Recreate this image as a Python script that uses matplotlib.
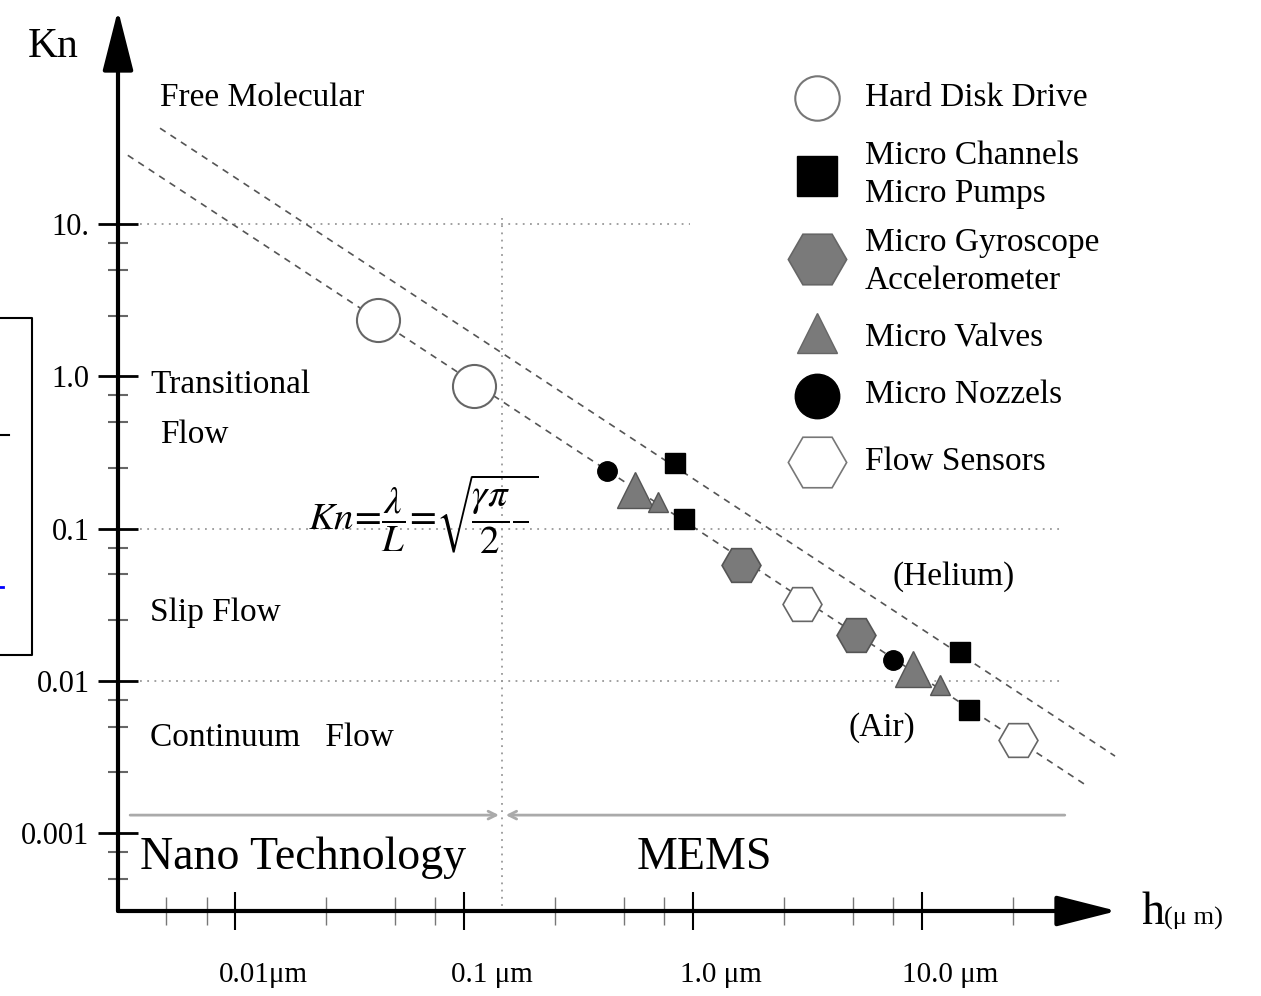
import numpy as np
import matplotlib
matplotlib.use('Agg')
import matplotlib.pyplot as plt
from matplotlib.lines import Line2D
from matplotlib.ticker import FixedLocator, NullFormatter
from matplotlib.transforms import blended_transform_factory

plt.rcParams['font.family'] = ['Liberation Serif', 'DejaVu Serif']
plt.rcParams['mathtext.fontset'] = 'stix'

W, H = 1261, 996

# devices: channel height h (um) vs Knudsen number
hdd_h = [0.042, 0.11]
hdd_kn = [2.34, 0.87]
chan_h = [0.83, 0.91, 14.6, 16.0]
chan_kn = [0.27, 0.115, 0.0155, 0.0064]
gyro_h = [1.62, 5.15]
gyro_kn = [0.058, 0.020]
valve_big_h = [0.56, 9.1]
valve_big_kn = [0.18, 0.012]
valve_small_h = [0.70, 12.0]
valve_small_kn = [0.15, 0.0094]
nozzle_h = [0.42, 7.5]
nozzle_kn = [0.24, 0.0136]
sensor_h = [3.0, 26.2]
sensor_kn = [0.032, 0.0041]

# Kn ~ 1/h lines
air_h = [0.0034, 52.5]
air_kn = [28.4, 0.00204]
he_h = [0.0047, 69.6]
he_kn = [42.8, 0.0032]

xticks = [0.01, 0.1, 1.0, 10.0]
xtick_labels = ['0.01μm', '0.1 μm', '1.0 μm', '10.0 μm']
yticks = [0.001, 0.01, 0.1, 1.0, 10.0]
ytick_labels = ['0.001', '0.01', '0.1', '1.0', '10.']
xminor = [m * 10.0**k for k in range(-3, 2) for m in (2.5, 5, 7.5)]
yminor = [m * 10.0**k for k in range(-4, 1) for m in (2.5, 5, 7.5)]

legend_names = ['Hard Disk Drive', 'Micro Channels\nMicro Pumps',
                'Micro Gyroscope\nAccelerometer', 'Micro Valves',
                'Micro Nozzels', 'Flow Sensors']


def fx(px):
    return px / W


def fy(py):
    return 1 - py / H


fig = plt.figure(figsize=(W / 100, H / 100), dpi=100)
ax = fig.add_axes([fx(118), fy(911), (1117 - 118) / W, (911 - 10) / H])
ax.set_xscale('log')
ax.set_yscale('log')
ax.set_xlim(0.00308, 71.0)
ax.set_ylim(3.07e-4, 256)
for s in ax.spines.values():
    s.set_visible(False)

# ticks
ax.set_yticks(yticks)
ax.set_yticklabels(ytick_labels, fontsize=22)
ax.yaxis.set_minor_locator(FixedLocator([v for v in yminor if 3.1e-4 < v < 10]))
ax.yaxis.set_minor_formatter(NullFormatter())
ax.tick_params(axis='y', which='major', direction='inout', length=29, width=2, pad=6)
ax.tick_params(axis='y', which='minor', direction='inout', length=15, width=1.5, color='#666666')
ax.set_xticks(xticks)
ax.set_xticklabels([''] * len(xticks))
ax.xaxis.set_minor_locator(FixedLocator([v for v in xminor if 0.0031 < v < 40]))
ax.xaxis.set_minor_formatter(NullFormatter())
ax.tick_params(axis='x', which='major', direction='inout', length=27, width=1.5)
ax.tick_params(axis='x', which='minor', direction='inout', length=20, width=1.0, color='#777777')

for v, lab in zip(xticks, xtick_labels):
    ax.annotate(lab, xy=(v, 0), xycoords=('data', 'axes fraction'),
                xytext=(20, -46), textcoords='offset points',
                ha='center', va='center', fontsize=21)

# axes with arrows
arrow_kw = dict(arrowstyle='-|>,head_length=0.75,head_width=0.19', color='black',
                lw=3, mutation_scale=50, shrinkA=0, shrinkB=0)
ax.annotate('', xy=(0, 1), xytext=(0, 0), xycoords='axes fraction',
            arrowprops=arrow_kw, annotation_clip=False)
ax.annotate('', xy=(1, 0), xytext=(0, 0), xycoords='axes fraction',
            arrowprops=arrow_kw, annotation_clip=False)

# dotted guides
bt = blended_transform_factory(ax.transAxes, ax.transData)
ax.plot([0.022, 0.573], [10, 10], transform=bt, ls=(0, (1, 3)), color='#999999', lw=1.3)
for k in (0.1, 0.01):
    ax.plot([0.022, 0.945], [k, k], transform=bt, ls=(0, (1, 3)), color='#999999', lw=1.3)
ax.plot([0.147, 0.147], [11, 3.3e-4], ls=(0, (1, 3)), color='#999999', lw=1.3)

# Nano / MEMS separator
ax.annotate('', xy=(0.142, 1.31e-3), xytext=(0.00348, 1.31e-3),
            arrowprops=dict(arrowstyle='->', color='#aaaaaa', lw=2, shrinkA=0, shrinkB=0,
                            mutation_scale=14))
ax.annotate('', xy=(0.152, 1.31e-3), xytext=(42, 1.31e-3),
            arrowprops=dict(arrowstyle='->', color='#aaaaaa', lw=2, shrinkA=0, shrinkB=0,
                            mutation_scale=14))

# Kn lines
ax.plot(air_h, air_kn, ls=(0, (4, 3.5)), color='#555555', lw=1.2)
ax.plot(he_h, he_kn, ls=(0, (4, 3.5)), color='#555555', lw=1.2)

# devices
ax.plot(hdd_h, hdd_kn, 'o', ms=31, mfc='white', mec='#666666', mew=1.5, ls='none')
ax.plot(chan_h, chan_kn, 's', ms=15, mfc='black', mec='black', ls='none')
ax.plot(gyro_h, gyro_kn, 'H', ms=28, mfc='#7a7a7a', mec='#555555', mew=1.2, ls='none')
ax.plot(sensor_h, sensor_kn, 'H', ms=28, mfc='white', mec='#666666', mew=1.2, ls='none')
ax.plot(valve_big_h, valve_big_kn, '^', ms=26, mfc='#7a7a7a', mec='#555555', mew=1, ls='none')
ax.plot(valve_small_h, valve_small_kn, '^', ms=15, mfc='#7a7a7a', mec='#555555', mew=1, ls='none')
ax.plot(nozzle_h, nozzle_kn, 'o', ms=14, mfc='black', mec='black', ls='none')

# legend drawn by hand
leg_styles = [dict(marker='o', ms=32, mfc='white', mec='#777777', mew=1.5),
              dict(marker='s', ms=29, mfc='black', mec='black'),
              dict(marker='H', ms=42, mfc='#7a7a7a', mec='#666666', mew=1.2),
              dict(marker='^', ms=29, mfc='#7a7a7a', mec='#666666', mew=1),
              dict(marker='o', ms=32, mfc='black', mec='black'),
              dict(marker='H', ms=42, mfc='white', mec='#777777', mew=1.2)]
leg_marker_y = [98, 176, 259, 333, 396, 462]
leg_text_y = [98, 175, 262, 338, 395, 462]
for st, my, ty, name in zip(leg_styles, leg_marker_y, leg_text_y, legend_names):
    fig.add_artist(Line2D([fx(817)], [fy(my)], ls='none', **st))
    fig.text(fx(865), fy(ty), name, fontsize=24, va='center', ha='left', linespacing=1.3)

# region labels
fig.text(fx(53), fy(47), 'Kn', fontsize=30, ha='center', va='center')
fig.text(fx(1141), fy(913), 'h', fontsize=33, ha='left', va='center')
fig.text(fx(1164), fy(918), '(μ m)', fontsize=19, ha='left', va='center')
fig.text(fx(160), fy(98), 'Free Molecular', fontsize=24, va='center')
fig.text(fx(150), fy(385), 'Transitional', fontsize=24, va='center')
fig.text(fx(160), fy(435), 'Flow', fontsize=24, va='center')
fig.text(fx(150), fy(613), 'Slip Flow', fontsize=24, va='center')
fig.text(fx(150), fy(738), 'Continuum   Flow', fontsize=24, va='center')
fig.text(fx(140), fy(858), 'Nano Technology', fontsize=33, va='center')
fig.text(fx(637), fy(858), 'MEMS', fontsize=33, va='center')
fig.text(fx(893), fy(577), '(Helium)', fontsize=24, va='center')
fig.text(fx(848), fy(728), '(Air)', fontsize=24, va='center')
fig.text(fx(308), fy(514),
         r'$Kn\!=\!\dfrac{\lambda}{L}\!=\!\sqrt{\!\dfrac{\gamma\pi}{2}\dfrac{\,}{\enspace}}$',
         fontsize=28, va='center', ha='left')

# cropped box on the left edge
fig.add_artist(Line2D([fx(0), fx(32), fx(32), fx(0)], [fy(318), fy(318), fy(655), fy(655)],
                      color='black', lw=1.5))
fig.add_artist(Line2D([fx(0), fx(9)], [fy(435), fy(435)], color='black', lw=1.5))
fig.add_artist(Line2D([fx(0), fx(3)], [fy(587), fy(587)], color='blue', lw=2))

fig.savefig('out.png', dpi=100)
